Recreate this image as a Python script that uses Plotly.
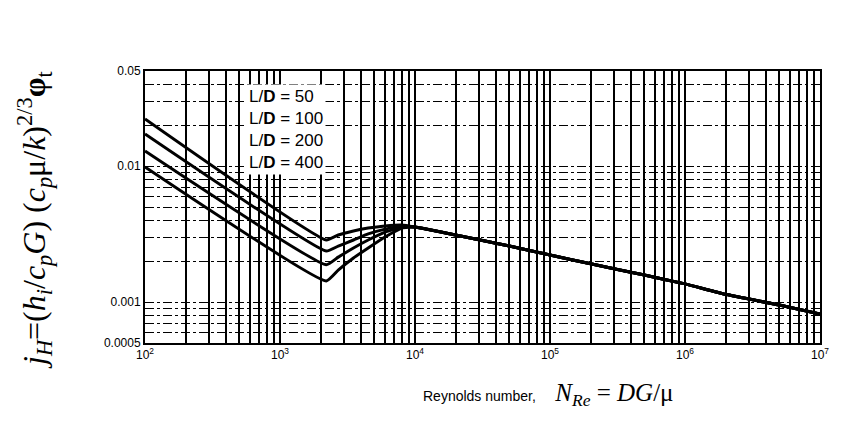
import plotly.graph_objects as go

# ---- data ----
re_laminar = [100, 2200]
re_transition = [2700, 3500, 4500, 6000, 8000]
re_turbulent = [10000, 20000, 50000, 100000, 200000, 500000, 1000000, 2000000, 5000000, 10000000]

series_names = ["L/D = 50", "L/D = 100", "L/D = 200", "L/D = 400"]
j_laminar_50 = [0.0222, 0.00286]
j_laminar_100 = [0.0172, 0.00237]
j_laminar_200 = [0.0129, 0.00188]
j_laminar_400 = [0.00984, 0.00143]

j_transition_50 = [0.00311, 0.00333, 0.00350, 0.00363, 0.00369]
j_transition_100 = [0.00258, 0.00286, 0.00317, 0.00344, 0.00363]
j_transition_200 = [0.00214, 0.00250, 0.00286, 0.00327, 0.00356]
j_transition_400 = [0.00172, 0.00211, 0.00250, 0.00301, 0.00350]

j_turbulent = [0.00356, 0.00311, 0.00258, 0.00222, 0.00191, 0.00158, 0.00136, 0.00114, 0.00095, 0.000816]

x_tick_decades = [100, 1000, 10000, 100000, 1000000, 10000000]
x_tick_labels = ["10<sup>2</sup>", "10<sup>3</sup>", "10<sup>4</sup>", "10<sup>5</sup>", "10<sup>6</sup>", "10<sup>7</sup>"]
y_tick_values = [0.05, 0.01, 0.001, 0.0005]
y_tick_labels = ["0.05", "0.01", "0.001", "0.0005"]

# ---- figure ----
fig = go.Figure()
lam = [j_laminar_50, j_laminar_100, j_laminar_200, j_laminar_400]
tra = [j_transition_50, j_transition_100, j_transition_200, j_transition_400]
for name, jl, jt in zip(series_names, lam, tra):
    fig.add_trace(go.Scatter(
        x=re_laminar + re_transition + re_turbulent,
        y=jl + jt + j_turbulent,
        mode="lines", name=name,
        line=dict(color="black", width=3, shape="spline", smoothing=0.4),
        showlegend=False,
    ))

# grid positions (1..9 multiples in every decade)
x_grid = []
for d in x_tick_decades[:-1]:
    for m in range(2, 10):
        x_grid.append(d * m)

y_grid = []
for d in [0.0001, 0.001, 0.01]:
    for m in range(1, 10):
        v = round(d * m, 6)
        if 0.0005 <= v <= 0.05 and v not in y_tick_values:
            y_grid.append(v)

fig.update_xaxes(
    type="log", range=[2, 7],
    tickmode="array", tickvals=x_tick_decades, ticktext=x_tick_labels, tickangle=0,
    showgrid=True, gridcolor="black", gridwidth=2,
    minor=dict(tickmode="array", tickvals=x_grid, showgrid=True, gridcolor="black", gridwidth=2, ticks=""),
    ticks="", tickfont=dict(family="Liberation Sans, Arial", size=12, color="black"),
    showline=True, linecolor="black", linewidth=2, mirror=True, zeroline=False,
)
fig.update_yaxes(
    type="log", range=[-3.30103, -1.30103],
    tickmode="array", tickvals=y_tick_values, ticktext=y_tick_labels,
    showgrid=True, gridcolor="black", gridwidth=1, griddash="dashdot",
    minor=dict(tickmode="array", tickvals=y_grid, showgrid=True, gridcolor="black", gridwidth=1, griddash="dashdot", ticks=""),
    ticks="", tickfont=dict(family="Liberation Sans, Arial", size=12, color="black"),
    showline=True, linecolor="black", linewidth=2, mirror=True, zeroline=False,
)

# legend box
fig.add_annotation(
    xref="paper", yref="paper", x=(238 - 137) / 675, y=(335 - 76) / 272,
    xanchor="left", yanchor="top", align="left", showarrow=False,
    text="L/<b>D</b> = 50<br>L/<b>D</b> = 100<br>L/<b>D</b> = 200<br>L/<b>D</b> = 400",
    font=dict(family="Liberation Sans, Arial", size=17, color="black"),
    bgcolor="white", borderpad=2,
)

# y-axis title
fig.add_annotation(
    xref="paper", yref="paper", x=(26 - 137) / 675, y=(335 - 212) / 272,
    xanchor="center", yanchor="middle", textangle=-90, showarrow=False,
    text="<i>j<sub>H</sub></i>=(<i>h<sub>i</sub></i>/<i>c<sub>p</sub>G</i>) (<i>c<sub>p</sub></i>μ/<i>k</i>)<sup>2/3</sup><b>φ</b><sub>t</sub>",
    font=dict(family="Liberation Serif, Times New Roman", size=32, color="black"),
)

# x-axis title
fig.add_annotation(
    xref="paper", yref="paper", x=(540 - 137) / 675, y=(335 - 386) / 272,
    xanchor="center", yanchor="middle", showarrow=False,
    text="<span style='font-family:Liberation Sans, Arial; font-size:14px'>Reynolds number,&nbsp;&nbsp;&nbsp;&nbsp;&nbsp;</span>"
         "<i>N<sub>Re</sub></i> = <i>DG</i>/μ",
    font=dict(family="Liberation Serif, Times New Roman", size=25, color="black"),
)

fig.update_layout(
    width=844, height=423,
    margin=dict(l=137, r=32, t=63, b=88),
    paper_bgcolor="white", plot_bgcolor="white",
    showlegend=False,
)

fig.write_html("out.html")
